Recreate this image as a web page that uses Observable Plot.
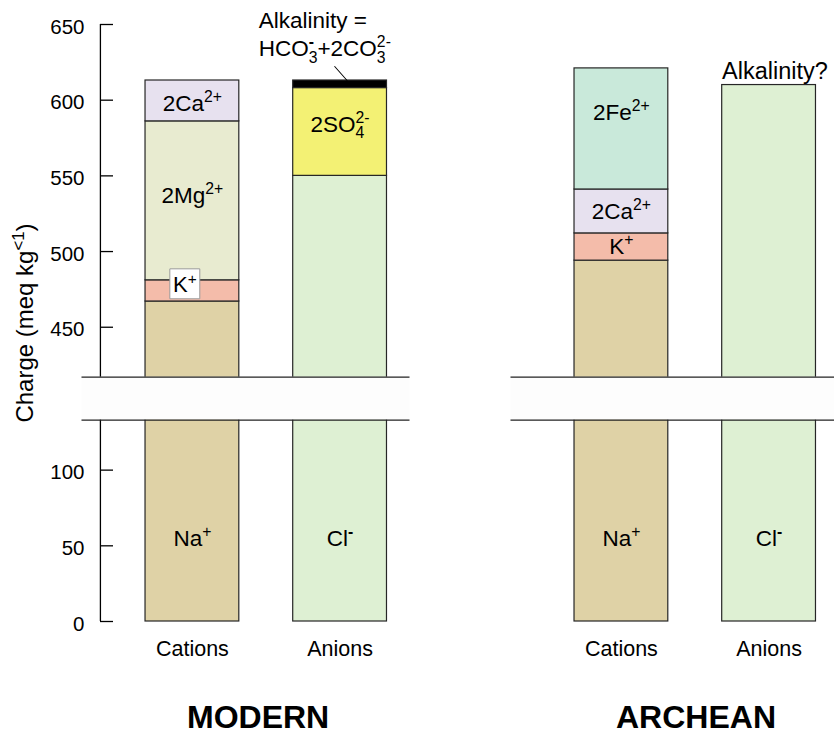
<!DOCTYPE html>
<html>
<head>
<meta charset="utf-8">
<script src="https://cdn.jsdelivr.net/npm/d3@7"></script>
<script src="https://cdn.jsdelivr.net/npm/@observablehq/plot@0.6"></script>
<style>
  html, body { margin: 0; padding: 0; overflow: hidden; background: #fff; }
</style>
</head>
<body>
<script>
// Charge balance of the major seawater ions: modern ocean vs. Archean ocean.
// Labels use a small markup: ^{..} superscript, _{..} subscript.

const eras = ["MODERN", "ARCHEAN"];
const sides = ["Cations", "Anions"];

// One entry per stacked segment, bottom to top (charge in meq/kg).
const segmentEra = ["MODERN", "MODERN", "MODERN", "MODERN", "MODERN", "MODERN", "MODERN",
                    "ARCHEAN", "ARCHEAN", "ARCHEAN", "ARCHEAN", "ARCHEAN"];
const segmentSide = ["Cations", "Cations", "Cations", "Cations", "Anions", "Anions", "Anions",
                     "Cations", "Cations", "Cations", "Cations", "Anions"];
const segmentIon = ["Na^{+}", "K^{+}", "2Mg^{2+}", "2Ca^{2+}", "Cl^{-}", "2SO_{4}^{2-}", "Alkalinity",
                    "Na^{+}", "K^{+}", "2Ca^{2+}", "2Fe^{2+}", "Cl^{-}"];
const segmentCharge = [467, 14, 105, 27, 550, 58, 5,
                       494, 18, 29, 80, 610];

// Broken value axis: everything between these two charges is cut out.
const axisBreak = [133, 417];
const yMax = 650;
const yTicks = [0, 50, 100, 450, 500, 550, 600, 650];
const yLabel = "Charge (meq kg^{<1})";

const alkalinityNote = "Alkalinity =\nHCO_{3}^{-}+2CO_{3}^{2-}";
const unknownNote = "Alkalinity?";

// Fill colour of each ion.
const ionColors = new Map([
  ["Na^{+}", "#dfd2a6"],
  ["K^{+}", "#f4bcaa"],
  ["2Mg^{2+}", "#e8ebd0"],
  ["2Ca^{2+}", "#e7e1ef"],
  ["2Fe^{2+}", "#c9e9da"],
  ["Cl^{-}", "#def0d3"],
  ["2SO_{4}^{2-}", "#f3f174"],
  ["Alkalinity", "#000000"]
]);

// Height of the drawn cut, in charge units; squash() folds the cut-out range
// into that band so both sides of the axis keep the same scale.
const cutHeight = 28.4;
function squash(v) {
  const [a, b] = axisBreak;
  if (v <= a) return v;
  if (v >= b) return v - (b - a) + cutHeight;
  return a + (v - a) / (b - a) * cutHeight;
}

// Stack the segments of each column.
const segments = [];
{
  const tops = new Map();
  segmentIon.forEach((ion, i) => {
    const key = segmentEra[i] + "/" + segmentSide[i];
    const lo = tops.get(key) ?? 0;
    const hi = lo + segmentCharge[i];
    tops.set(key, hi);
    segments.push({era: segmentEra[i], side: segmentSide[i], ion, lo, hi});
  });
}
const isTop = d => !segments.some(e => e.era === d.era && e.side === d.side && e.lo >= d.hi);

// Where each ion name sits inside its segment.
const labelNudge = {
  "MODERN 2Mg^{2+}": 3.5,
  "MODERN 2Ca^{2+}": -1.8,
  "MODERN 2SO_{4}^{2-}": 5,
  "MODERN K^{+}": 3.7,
  "ARCHEAN 2Fe^{2+}": 10.6
};
function labelValue(d) {
  if (d.lo < axisBreak[0] && d.hi > axisBreak[1]) return d.lo + (axisBreak[0] - d.lo) * 0.41;
  return (d.lo + d.hi) / 2 + (labelNudge[d.era + " " + d.ion] ?? 0);
}
const boxed = d => d.era === "MODERN" && d.ion === "K^{+}";
const labelled = segments.filter(d => d.ion !== "Alkalinity");

const FONT = "'Liberation Sans', Arial, Helvetica, sans-serif";
const onFirst = () => eras[0];

const chart = Plot.plot({
  width: 840,
  height: 735,
  marginTop: 24,
  marginBottom: 114,
  marginLeft: 81.5,
  marginRight: 1.5,
  style: {fontFamily: FONT, fontSize: "20px", maxWidth: "none", overflow: "visible", background: "white", color: "black"},
  fx: {domain: eras, axis: null, paddingInner: 0.2354, paddingOuter: 0, round: false},
  x: {type: "band", domain: sides, axis: null, paddingInner: 0.365, paddingOuter: 0.293, align: 0.734, round: false},
  y: {domain: [0, squash(yMax)], axis: null},
  color: {domain: [...ionColors.keys()], range: [...ionColors.values()]},
  marks: [
    // stacked ion columns
    Plot.barY(segments, {x: "side", y1: d => squash(d.lo), y2: d => squash(d.hi), fx: "era", fill: "ion", stroke: "#262626", strokeWidth: 1.2}),

    // value axis (left panel only)
    Plot.ruleX([0], {x: () => sides[0], fx: onFirst, y1: squash(0), y2: squash(yMax), dx: -92, stroke: "black", strokeWidth: 1.3}),
    Plot.tickY(yTicks, {y: squash, fx: onFirst, insetLeft: 18.5, insetRight: 296.5, stroke: "black", strokeWidth: 1.3}),

    // the cut in the axis, across both panels
    Plot.rect([axisBreak], {y1: d => squash(d[0]), y2: d => squash(d[1]), fill: "#fdfdfd"}),
    Plot.ruleY(axisBreak, {y: squash, stroke: "#222", strokeWidth: 1.3}),

    Plot.text(yTicks, {y: squash, text: d => String(d), fx: onFirst, frameAnchor: "left", textAnchor: "end", dx: 2.5, dy: 2.5, fontSize: 20.5}),
    Plot.text([yLabel], {text: d => d, fx: onFirst, frameAnchor: "left", textAnchor: "middle", lineAnchor: "middle", rotate: -90, dx: -56.5, fontSize: 24}),

    // ion names
    Plot.dot(labelled.filter(boxed), {x: "side", y: d => squash(labelValue(d)), fx: "era", symbol: "square", r: 16.9, dx: -7.6, dy: -1.5, fill: "white", stroke: "#9a9a9a", strokeWidth: 1}),
    Plot.text(labelled.filter(boxed), {x: "side", y: d => squash(labelValue(d)), fx: "era", text: "ion", dx: -7.6, fontSize: 22}),
    Plot.text(labelled.filter(d => !boxed(d)), {x: "side", y: d => squash(labelValue(d)), fx: "era", text: "ion", fontSize: 22.5}),

    // alkalinity notes
    Plot.text(segments.filter(d => d.ion === "Alkalinity"), {x: "side", y: d => squash(d.hi), fx: "era", text: () => alkalinityNote, textAnchor: "start", lineAnchor: "top", lineHeight: 1.25, dx: -81.4, dy: -72.3, fontSize: 22.5}),
    Plot.vector(segments.filter(d => d.ion === "Alkalinity"), {x: "side", y: d => squash(d.hi), fx: "era", rotate: -41.5, length: 18.7, anchor: "start", r: 0, dx: 7, stroke: "black", strokeWidth: 1}),
    Plot.text(segments.filter(d => d.era === "ARCHEAN" && d.side === "Anions" && isTop(d)), {x: "side", y: d => squash(d.hi), fx: "era", text: () => unknownNote, textAnchor: "start", lineAnchor: "bottom", dx: -47, dy: -6, fontSize: 23.5}),

    // column and panel names
    Plot.text(d3.cross(eras, sides), {fx: d => d[0], x: d => d[1], text: d => d[1], frameAnchor: "bottom", lineAnchor: "middle", dy: 28, fontSize: 21.5}),
    Plot.text(eras, {fx: d => d, text: d => d, frameAnchor: "bottom-left", textAnchor: "start", lineAnchor: "middle", dx: 105, dy: 96, fontSize: 32, fontWeight: "bold"})
  ]
});

document.body.appendChild(chart);

// Turn ^{..} / _{..} markup into raised and lowered tspans; a superscript that
// follows a subscript is stacked above it, and a lone minus is drawn heavier.
function renderRich(el) {
  const fs = parseFloat(getComputedStyle(el).fontSize);
  const parts = [];
  const re = /([\^_])\{([^}]*)\}|([^\^_]+)/g;
  let m;
  const src = el.textContent;
  while ((m = re.exec(src))) {
    parts.push(m[3] !== undefined ? {kind: "base", s: m[3]} : {kind: m[1] === "^" ? "sup" : "sub", s: m[2]});
  }
  el.textContent = "";
  let shift = 0, prev = null, carry = 0;
  for (const p of parts) {
    const ts = document.createElementNS("http://www.w3.org/2000/svg", "tspan");
    ts.textContent = p.s;
    const target = p.kind === "sup" ? -0.4 * fs : p.kind === "sub" ? 0.3 * fs : 0;
    if (target !== shift) ts.setAttribute("dy", target - shift);
    shift = target;
    if (p.kind !== "base") ts.setAttribute("font-size", 0.7 * fs);
    if (p.kind === "sup" && p.s === "-") ts.setAttribute("font-weight", "bold");
    const stacked = p.kind === "sup" && prev && prev.kind === "sub";
    let dx = carry;
    carry = 0;
    if (stacked) dx -= prev.width;
    if (dx) ts.setAttribute("dx", dx);
    el.appendChild(ts);
    p.width = ts.getComputedTextLength();
    if (stacked) carry = Math.max(0, prev.width - p.width);
    prev = p;
  }
}
for (const el of chart.querySelectorAll("text, tspan")) {
  if (el.children.length === 0 && /[\^_]\{/.test(el.textContent)) renderRich(el);
}
</script>
</body>
</html>
